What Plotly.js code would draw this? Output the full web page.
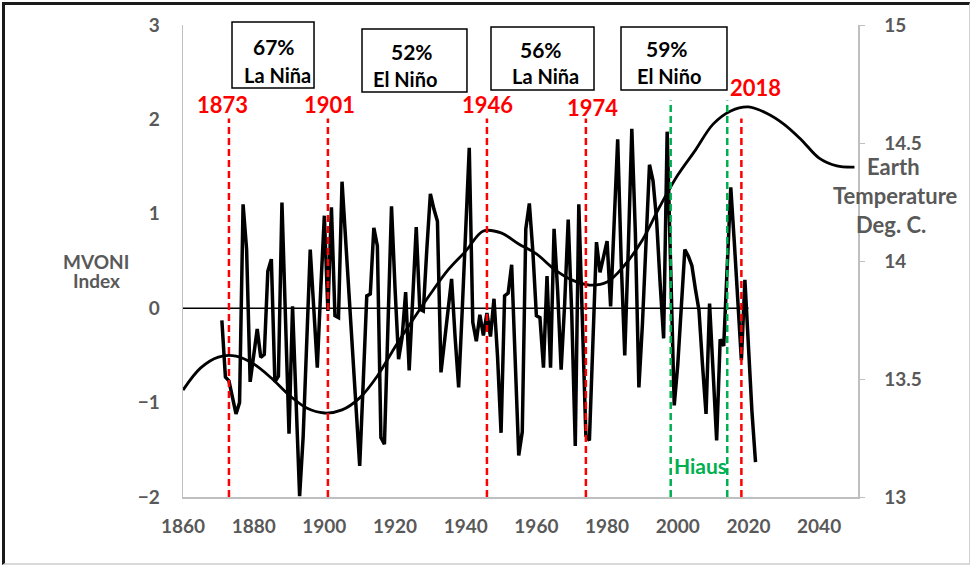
<!DOCTYPE html>
<html>
<head>
<meta charset="utf-8">
<script src="https://cdn.plot.ly/plotly-3.0.1.min.js"></script>
<style>
  html, body { margin: 0; padding: 0; background: #fff; }
  #wrap { position: relative; width: 972px; height: 567px; }
  #chart { width: 972px; height: 567px; }
  #frame { position: absolute; left: 2px; top: 2px; width: 964px; height: 558px;
           border-top: 3px solid #1a1a1a; border-left: 3px solid #1a1a1a;
           border-right: 1px solid #d0d0d0; border-bottom: 2px solid #d9d9d9; pointer-events: none; }
</style>
</head>
<body>
<div id="wrap"><div id="chart"></div><div id="frame"></div></div>
<script>
// ---- Data ----
const mvoniStartYear = 1871;
const mvoniValues = [
  -0.13, -0.73, -0.77, -0.95, -1.12, -1.00, 1.10, 0.62, -0.78, -0.50,   // 1871-1880
  -0.22, -0.52, -0.49, 0.39, 0.52, -0.78, -0.72, 1.12, -0.10, -1.33,    // 1881-1890
  0.02, -1.00, -1.99, -1.36, -0.42, 0.62, 0.00, -0.63, 0.22, 0.98,      // 1891-1900
  -0.03, 1.07, -0.08, -0.10, 1.34, 0.74, 0.14, -0.47, -1.07, -1.67,     // 1901-1910
  -0.78, 0.13, 0.15, 0.85, 0.66, -1.37, -1.44, -0.05, 1.08, 0.21,       // 1911-1920
  -0.54, -0.31, 0.17, -0.66, 0.18, 0.86, -0.01, -0.03, 0.63, 1.21,      // 1921-1930
  1.05, 0.92, -0.68, -0.35, -0.01, 0.31, -0.31, -0.84, -0.03, 0.78,     // 1931-1940
  1.70, -0.15, -0.35, -0.07, -0.29, -0.05, -0.30, 0.10, -0.51, -1.32,   // 1941-1950
  0.13, 0.16, 0.46, -0.55, -1.56, -1.31, 0.84, 1.11, 0.60, -0.08,       // 1951-1960
  -0.10, -0.63, 0.34, -0.63, 0.84, 0.19, -0.65, 0.05, 0.94, -0.06,      // 1961-1970
  -1.46, 1.10, -0.10, -1.35, -1.40, -0.21, 0.70, 0.38, 0.55, 0.71,      // 1971-1980
  0.02, 0.90, 1.79, 0.49, -0.50, 0.63, 1.90, 0.80, -0.84, -0.17,        // 1981-1990
  0.59, 1.52, 1.35, 0.94, 0.27, -0.32, 1.87, 0.40, -1.03, -0.60,        // 1991-2000
  0.00, 0.62, 0.55, 0.45, 0.20, -0.02, -0.60, -1.12, 0.05, -0.70,       // 2001-2010
  -1.40, -0.33, -0.40, 0.45, 1.28, 0.70, 0.08, -0.55, 0.30, -0.45,      // 2011-2020
  -1.10, -1.63                                                          // 2021-2022
];
const mvoniYears = mvoniValues.map((_, i) => mvoniStartYear + i);

const tempYears = [1860, 1865, 1870, 1875, 1880, 1885, 1890, 1895, 1900, 1905,
  1910, 1915, 1920, 1925, 1930, 1935, 1940, 1945, 1950, 1955,
  1960, 1965, 1970, 1975, 1980, 1985, 1990, 1995, 2000, 2005,
  2010, 2015, 2020, 2025, 2030, 2035, 2040, 2045, 2050];
const tempValues = [13.453, 13.547, 13.593, 13.597, 13.564, 13.504, 13.432, 13.377, 13.356, 13.369,
  13.420, 13.513, 13.636, 13.750, 13.860, 13.962, 14.042, 14.127, 14.119, 14.072,
  14.030, 13.966, 13.920, 13.898, 13.911, 13.983, 14.089, 14.233, 14.364, 14.470,
  14.580, 14.636, 14.653, 14.627, 14.580, 14.513, 14.436, 14.403, 14.398];

const zeroLineYears = [1860, 2020];
const zeroLineValues = [0, 0];

const redYears = [1873, 1901, 1946, 1974, 2018];
const redLabels = ['1873', '1901', '1946', '1974', '2018'];
const greenYears = [1998, 2014];

const boxPercents = ['67%', '52%', '56%', '59%'];
const boxPhases = ['La Niña', 'El Niño', 'La Niña', 'El Niño'];

const xTickVals = [1860, 1880, 1900, 1920, 1940, 1960, 1980, 2000, 2020, 2040];
const yTickVals = [-2, -1, 0, 1, 2, 3];
const y2TickVals = [13, 13.5, 14, 14.5, 15];
const y2TickText = ['13', '13.5', '14', '14.5', '15'];

// ---- Styling / layout ----
const FONT = 'Lato, "Open Sans", sans-serif';
const GRAY = '#595959';

const traces = [
  { x: zeroLineYears, y: zeroLineValues, mode: 'lines', line: { color: '#000', width: 1.5 }, hoverinfo: 'skip', showlegend: false },
  { x: tempYears, y: tempValues, yaxis: 'y2', mode: 'lines', line: { color: '#000', width: 2.8, shape: 'spline', smoothing: 1.0 }, showlegend: false },
  { x: mvoniYears, y: mvoniValues, mode: 'lines', line: { color: '#000', width: 3.5 }, showlegend: false }
];

const shapes = [];
const redTop = 2.01, greenTop = 2.2;
redYears.forEach(yr => shapes.push({ type: 'line', xref: 'x', yref: 'y', x0: yr, x1: yr, y0: -2, y1: redTop,
  line: { color: '#FF0000', width: 2.5, dash: '7px,4px' } }));
greenYears.forEach(yr => shapes.push({ type: 'line', xref: 'x', yref: 'y', x0: yr, x1: yr, y0: -2, y1: greenTop,
  line: { color: '#00B050', width: 2.5, dash: '7px,4px' } }));

// box positions (paper coords)
const boxX0 = [0.0726, 0.2652, 0.4563, 0.6489];
const boxX1 = [0.1941, 0.4207, 0.6089, 0.8059];
const boxY0 = [0.8665, 0.8581, 0.8623, 0.8623];
const boxY1 = [1.0064, 0.9915, 0.9958, 0.9958];
boxX0.forEach((x0, i) => shapes.push({ type: 'rect', xref: 'paper', yref: 'paper', x0: x0, x1: boxX1[i], y0: boxY0[i], y1: boxY1[i],
  line: { color: '#000', width: 1.5 }, fillcolor: 'rgba(255,255,255,0)' }));

const annotations = [];
function addText(px, py, text, size, color) {
  annotations.push({ xref: 'paper', yref: 'paper', x: (px - 183) / 675, y: (497 - py) / 472, xanchor: 'center', yanchor: 'middle',
    text: text, showarrow: false, font: { family: FONT, size: size, color: color, weight: 'bold' } });
}
const pctPx = [274, 412, 541, 667], pctPy = [46, 52, 50, 49];
const phPx = [277, 405, 545, 669], phPy = [75, 79, 76, 76];
boxPercents.forEach((t, i) => {
  addText(pctPx[i], pctPy[i], t, 21, '#000');
  addText(phPx[i], phPy[i], boxPhases[i], 20, '#000');
});
const redPx = [222, 329, 487, 592, 755], redPy = [104, 104, 104, 108, 87];
redLabels.forEach((t, i) => addText(redPx[i], redPy[i], t, 22, '#FF0000'));
addText(700, 465, 'Hiaus', 21, '#00B050');
addText(96, 261, 'MVONI', 19, GRAY);
addText(96, 280, 'Index', 19, GRAY);
const rtLines = ['Earth', 'Temperature', 'Deg. C.'], rtY = [166, 195, 224], rtX = [893, 895, 891];
rtLines.forEach((t, i) => addText(rtX[i], rtY[i], t, 22, GRAY));

const tickFont = { family: FONT, size: 19, color: GRAY, weight: 'bold' };
const layout = {
  width: 972, height: 567,
  margin: { l: 183, r: 114, t: 25, b: 70 },
  paper_bgcolor: '#fff', plot_bgcolor: '#fff',
  showlegend: false,
  xaxis: { range: [1860, 2051], tickvals: xTickVals, showgrid: false, zeroline: false, showline: true, linecolor: '#bfbfbf', linewidth: 1.5,
    ticks: '', tickfont: tickFont, ticklabelstandoff: 12 },
  yaxis: { range: [-2, 3], tickvals: yTickVals, showgrid: false, zeroline: false, showline: true, linecolor: '#bfbfbf', linewidth: 1.5,
    ticks: '', tickfont: tickFont, ticklabelstandoff: 18 },
  yaxis2: { range: [13, 15], tickvals: y2TickVals, ticktext: y2TickText, overlaying: 'y', side: 'right', showgrid: false, zeroline: false,
    showline: true, linecolor: '#bfbfbf', linewidth: 1.5, ticks: 'outside', ticklen: 5, tickcolor: '#bfbfbf', tickfont: tickFont, ticklabelstandoff: 16 },
  shapes: shapes,
  annotations: annotations
};

Plotly.newPlot('chart', traces, layout, { displayModeBar: false, staticPlot: true });
</script>
</body>
</html>
